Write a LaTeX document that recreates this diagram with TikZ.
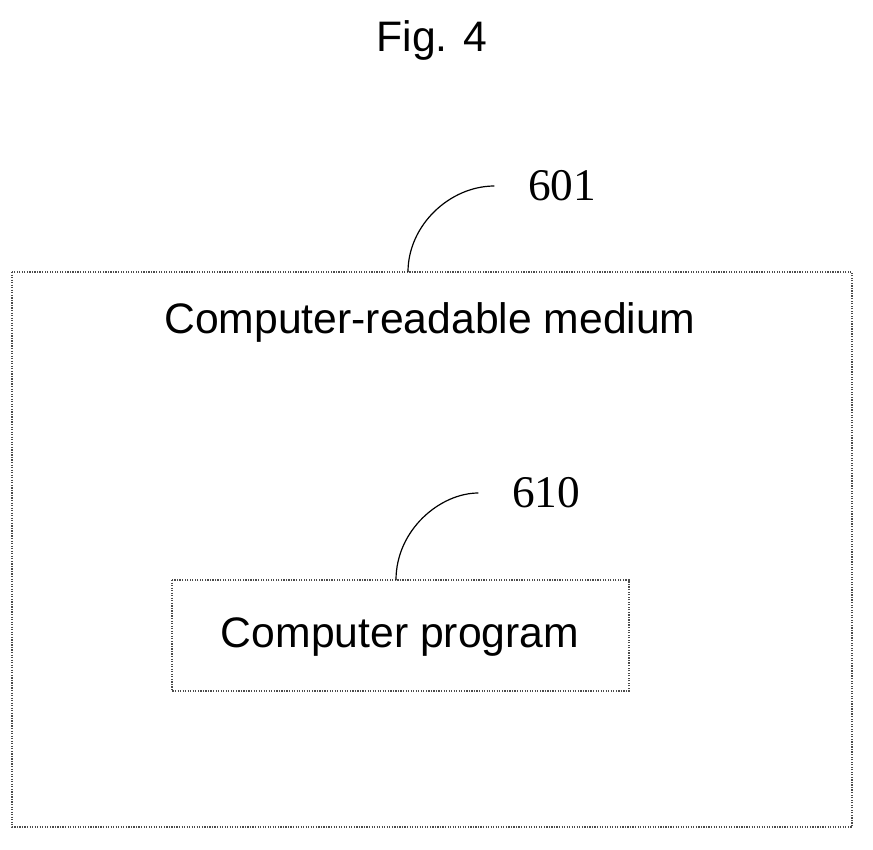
\documentclass[tikz,border=0pt]{standalone}
\usepackage{fontspec}
\setmainfont{Liberation Sans}
\newfontfamily\numfont{Liberation Serif}
\begin{document}
\begin{tikzpicture}[x=0.75pt,y=0.75pt,yscale=-1,xscale=1]
\tikzset{box/.style={draw=black!70, line width=0.9pt, densely dotted},
  txt/.style={font=\fontsize{32}{38}\selectfont},
  num/.style={font=\numfont\fontsize{34}{40}\selectfont, inner sep=1pt}}
\useasboundingbox (0,0) rectangle (873,849);

\draw (432,40) node [txt] (fig) {Fig. 4};
% outer medium
\draw [box] (12,272) rectangle (852,827);
\coordinate (mtop) at (408,272);
\draw (430,322) node [txt] (medium) {Computer-readable medium};
\draw (562,186) node [num] (l601) {601};
% inner program
\draw [box] (172,580) rectangle (629,691);
\coordinate (ptop) at (396,580);
\draw (400,637) node [txt] (program) {Computer program};
\draw (546,493) node [num] (l610) {610};

\draw [line width=0.9pt, shorten >=24pt] (mtop) .. controls (408,225) and (450,186) .. (l601.west);
\draw [line width=0.9pt, shorten >=24pt] (ptop) .. controls (396,530) and (440,493) .. (l610.west);
\end{tikzpicture}
\end{document}
